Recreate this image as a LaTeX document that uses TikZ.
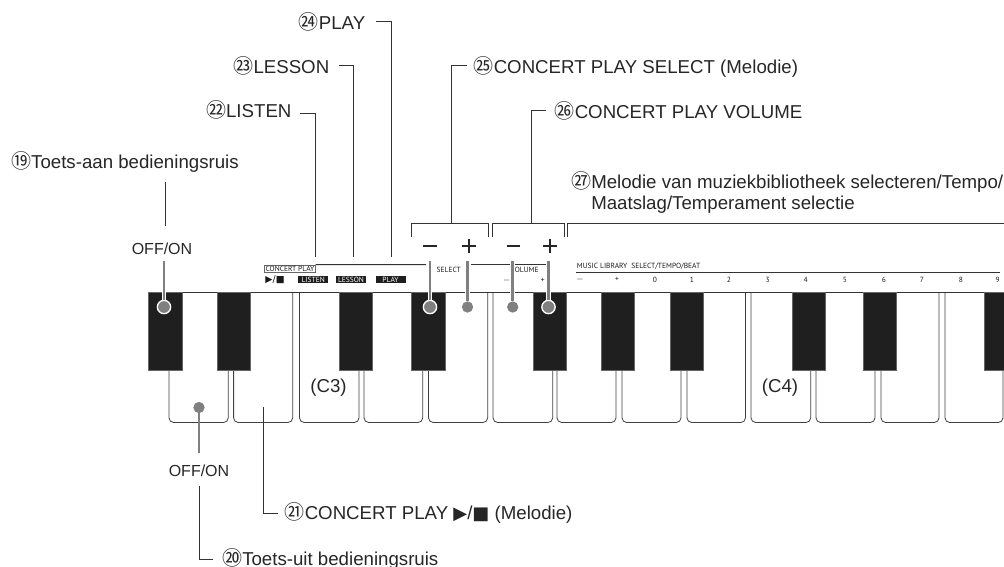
\documentclass[tikz,border=0pt]{standalone}
\usepackage{fontspec}
\setmainfont{Liberation Sans}
\newfontfamily\cjk{Noto Sans CJK JP}
\newfontfamily\symb{DejaVu Sans}
\newfontfamily\panel{PT Sans}
\usepackage{tikz}
\newcommand{\num}[1]{{\cjk\fontsize{15}{16}\selectfont #1}}
\newcommand{\shape}[1]{{\symb\fontsize{13.5}{16}\selectfont #1}}
% one white key: left x, right x, top of left edge, top of right edge
\newcommand{\whitekey}[4]{\draw[keyline] (#1,#3) -- (#1,422.5) -- (#2,422.5) -- (#2,#4);}
\tikzset{
  callout/.style={inner sep=0pt,anchor=west,font=\fontsize{14}{16}\selectfont,text=black!85},
  lead/.style={draw=black!80,line width=0.75pt},
  graylead/.style={draw=black!50,line width=2pt},
  blackkey/.style={fill=black!88,draw=black!60,line width=0.3pt,minimum width=25pt,minimum height=58.5pt,inner sep=0pt},
  dot/.style={circle,fill=black!50,minimum size=8.5pt,inner sep=0pt},
  rimdot/.style={dot,draw=white,line width=1pt,minimum size=10pt},
  keyline/.style={draw=black!75,line width=0.6pt,rounded corners=3.5pt},
  paneltext/.style={inner sep=0pt,font=\panel\fontsize{5.6}{6}\selectfont,text=black!90},
  panelbtn/.style={paneltext,fill=black!88,text=white,minimum width=22.5pt,minimum height=5.6pt},
  signmark/.style={draw=black!85,line width=1.5pt}
}
\begin{document}
\begin{tikzpicture}[x=0.75pt,y=-0.75pt]
  \useasboundingbox (0,0) rectangle (1004,567);
  % white keys
  \whitekey{169}{228.3}{370}{370}
  \whitekey{233.6}{292.7}{370}{292}
  \whitekey{299.5}{359}{292}{370}
  \whitekey{364}{422.7}{370}{370}
  \whitekey{428.5}{487.7}{370}{292}
  \whitekey{493}{552.7}{292}{370}
  \whitekey{557}{616}{370}{370}
  \whitekey{622}{681}{370}{370}
  \whitekey{687}{745.5}{370}{292}
  \whitekey{751}{810.7}{292}{370}
  \whitekey{816}{875}{370}{370}
  \whitekey{881}{939}{370}{292}
  \whitekey{945}{1003}{292}{370}
  \draw[lead] (148.5,292) -- (1004,292);
  % black keys
  \node[blackkey] (k1) at (165.3,331) {};
  \node[blackkey] (k2) at (233.8,331) {};
  \node[blackkey] (k3) at (355.5,331) {};
  \node[blackkey] (k4) at (428.3,331) {};
  \node[blackkey] (k5) at (549.7,331) {};
  \node[blackkey] (k6) at (618,331) {};
  \node[blackkey] (k7) at (687,331) {};
  \node[blackkey] (k8) at (808.5,331) {};
  \node[blackkey] (k9) at (880,331) {};
  \node[blackkey] (k10) at (1001,331) {};
  % panel
  \node[paneltext,draw=black!60,line width=0.4pt,minimum width=38pt,minimum height=5.8pt] (cp) at (290,268.7) {CONCERT PLAY};
  \node[paneltext,font=\symb\fontsize{7}{7}\selectfont] (ps) at (275,279.7) {▶/■};
  \node[panelbtn] (listen) at (313.2,279.5) {LISTEN};
  \node[panelbtn] (lesson) at (351,279.5) {LESSON};
  \node[panelbtn] (play) at (390.5,279.5) {PLAY};
  \node[paneltext] (sel) at (448.7,270) {SELECT};
  \node[paneltext] (vol) at (526.7,270) {OLUME};
  \node[paneltext] (vm) at (506.7,280) {$-$};
  \node[paneltext] (vp) at (542.7,280) {+};
  \coordinate (c1) at (cp.north east); \coordinate (c2) at (426,264.5);
  \coordinate (c3) at (470.7,264.5); \coordinate (c4) at (545.7,264.5);
  \draw[lead] (c1)--(c2); \draw[lead] (c3)--(c4);
  \node[paneltext,anchor=west] (ml) at (576.7,266.7) {MUSIC LIBRARY\ \ SELECT/TEMPO/BEAT};
  \coordinate (m1) at (576,272.3); \coordinate (m2) at (1000,272.3);
  \draw[lead] (m1)--(m2);
  \node[paneltext] (t1) at (580,279.7) {$-$};
  \node[paneltext] (t2) at (617,279.7) {+};
  \node[paneltext] (t3) at (655,279.7) {0};
  \node[paneltext] (t4) at (692,279.7) {1};
  \node[paneltext] (t5) at (729,279.7) {2};
  \node[paneltext] (t6) at (767.7,279.7) {3};
  \node[paneltext] (t7) at (805.7,279.7) {4};
  \node[paneltext] (t8) at (845,279.7) {5};
  \node[paneltext] (t9) at (884,279.7) {6};
  \node[paneltext] (t10) at (922,279.7) {7};
  \node[paneltext] (t11) at (961,279.7) {8};
  \node[paneltext] (t12) at (997.7,279.7) {9};
  % key names
  \node[inner sep=0pt,font=\fontsize{14}{14}\selectfont,text=black!85] (c3k) at (328.5,387.7) {(C3)};
  \node[inner sep=0pt,font=\fontsize{14}{14}\selectfont,text=black!85] (c4k) at (780,387.7) {(C4)};
  % plus and minus
  \draw[signmark] (423,245.7) -- (437,245.7);
  \draw[signmark] (461.7,245.7) -- (475.7,245.7); \draw[signmark] (468.7,238.7) -- (468.7,252.7);
  \draw[signmark] (506.5,245.7) -- (520,245.7);
  \draw[signmark] (543,245.7) -- (557,245.7); \draw[signmark] (550,238.7) -- (550,252.7);
  % buttons
  \node[rimdot] (d1) at (164,307) {};
  \node[rimdot] (d2) at (430,307) {};
  \node[dot] (d3) at (467.5,307) {};
  \node[dot] (d4) at (512.7,307) {};
  \node[rimdot] (d5) at (548.5,307) {};
  \node[dot] (d6) at (199,407.5) {};
  \node[inner sep=0pt,font=\fontsize{12}{14}\selectfont,text=black!85] (off1) at (162,249) {OFF/ON};
  \node[inner sep=0pt,font=\fontsize{12}{14}\selectfont,text=black!85] (off2) at (199,471) {OFF/ON};
  \coordinate (o1) at (164,261); \coordinate (o2) at (430,261); \coordinate (o3) at (467.5,261);
  \coordinate (o4) at (512.7,261); \coordinate (o5) at (548.5,261); \coordinate (o6) at (199,453);
  \draw[white,line width=3.4pt] (o1)--(d1); \draw[white,line width=3.4pt] (o2)--(d2);
  \draw[white,line width=3.4pt] (o3)--(d3); \draw[white,line width=3.4pt] (o4)--(d4);
  \draw[white,line width=3.4pt] (o5)--(d5);
  \draw[graylead] (o1)--(d1); \draw[graylead] (o2)--(d2); \draw[graylead] (o3)--(d3);
  \draw[graylead] (o4)--(d4); \draw[graylead] (o5)--(d5); \draw[graylead] (o6)--(d6);
  % labels
  \node[callout,anchor=east] (n19) at (239,162) {\num{⑲}Toets-aan bedieningsruis};
  \node[callout] (n20) at (222,558.5) {\num{⑳}Toets-uit bedieningsruis};
  \node[callout] (n21) at (284.5,513) {\num{㉑}CONCERT PLAY \shape{▶}/\shape{■} (Melodie)};
  \node[callout,anchor=east] (n22) at (291.7,109.5) {\num{㉒}LISTEN};
  \node[callout,anchor=east] (n23) at (329.5,65.7) {\num{㉓}LESSON};
  \node[callout,anchor=east] (n24) at (365.5,21.7) {\num{㉔}PLAY};
  \node[callout] (n25) at (473.5,66.7) {\num{㉕}CONCERT PLAY SELECT (Melodie)};
  \node[callout] (n26) at (554.5,110.7) {\num{㉖}CONCERT PLAY VOLUME};
  \node[callout,align=left,anchor=north west] (n27) at (571,171) {\num{㉗}Melodie van muziekbibliotheek selecteren/Tempo/\\\hspace*{15pt}Maatslag/Temperament selectie};
  % leaders
  \coordinate (a1) at (165,181.7); \coordinate (a2) at (165,226);
  \draw[lead] (a1)--(a2);
  \coordinate (b1) at (199,486); \coordinate (b2) at (199,559.3); \coordinate (b3) at (213.3,559.3);
  \draw[lead] (b1)--(b2)--(b3);
  \coordinate (e1) at (263.3,407.3); \coordinate (e2) at (263.3,513.5); \coordinate (e3) at (278,513.5);
  \draw[lead] (e1)--(e2)--(e3);
  \coordinate (f1) at (300,113.3); \coordinate (f2) at (315,113.3); \coordinate (f3) at (315,257);
  \draw[lead] (f1)--(f2)--(f3);
  \coordinate (g1) at (338.5,66); \coordinate (g2) at (353.3,66); \coordinate (g3) at (353.3,257);
  \draw[lead] (g1)--(g2)--(g3);
  \coordinate (h1) at (376,22); \coordinate (h2) at (391,22); \coordinate (h3) at (391,257);
  \draw[lead] (h1)--(h2)--(h3);
  % brackets
  \coordinate (i1) at (466.7,66); \coordinate (i2) at (451.7,66); \coordinate (i3) at (451.7,223.5);
  \draw[lead] (i1)--(i2)--(i3);
  \coordinate (j1) at (546,111); \coordinate (j2) at (531.7,111); \coordinate (j3) at (531.7,223.5);
  \draw[lead] (j1)--(j2)--(j3);
  \coordinate (p1) at (411.7,236.7); \coordinate (p2) at (411.7,223.5); \coordinate (p3) at (488,223.5); \coordinate (p4) at (488,236.7);
  \draw[lead] (p1)--(p2)--(p3)--(p4);
  \coordinate (q1) at (492.3,236.7); \coordinate (q2) at (492.3,223.5); \coordinate (q3) at (564.3,223.5); \coordinate (q4) at (564.3,236.7);
  \draw[lead] (q1)--(q2)--(q3)--(q4);
  \coordinate (r1) at (567.7,236.7); \coordinate (r2) at (567.7,223.5); \coordinate (r3) at (1004,223.5);
  \draw[lead] (r1)--(r2)--(r3);
\end{tikzpicture}
\end{document}
